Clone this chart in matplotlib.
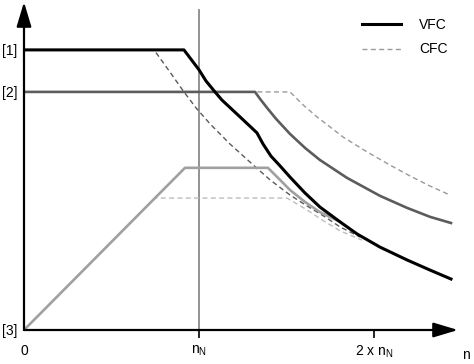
import numpy as np
import matplotlib
matplotlib.use('agg')
from matplotlib import pyplot as plt
from matplotlib.lines import Line2D

plt.rcParams['font.family'] = ['Liberation Sans', 'DejaVu Sans']
plt.rcParams['mathtext.default'] = 'regular'

# speed in units of n_N, torque as fraction of level [1]
vfc1_x = [0, 0.914, 1.0, 1.04, 1.086, 1.131, 1.234, 1.331, 1.366, 1.411, 1.463, 1.52, 1.606, 1.691, 1.806, 1.903, 2.034, 2.189, 2.32, 2.44]
vfc1_y = [1.0, 1.0, 0.929, 0.889, 0.854, 0.821, 0.761, 0.704, 0.664, 0.621, 0.586, 0.546, 0.489, 0.439, 0.386, 0.343, 0.296, 0.25, 0.214, 0.182]

vfc2_x = [0, 1.32, 1.349, 1.389, 1.44, 1.52, 1.606, 1.691, 1.846, 2.034, 2.189, 2.32, 2.44]
vfc2_y = [0.85, 0.85, 0.825, 0.793, 0.754, 0.7, 0.65, 0.607, 0.543, 0.479, 0.436, 0.404, 0.382]

vfc3_x = [0, 0.92, 1.394, 1.463, 1.52, 1.606, 1.691, 1.806]
vfc3_y = [0, 0.579, 0.579, 0.536, 0.5, 0.457, 0.421, 0.386]

cfc1_x = [0, 0.743, 0.834, 0.914, 0.983, 1.063, 1.177, 1.303, 1.406, 1.52, 1.617, 1.72, 1.806, 1.92]
cfc1_y = [1.0, 1.0, 0.921, 0.85, 0.793, 0.736, 0.664, 0.593, 0.536, 0.482, 0.443, 0.404, 0.368, 0.332]

cfc2_x = [0, 1.52, 1.594, 1.674, 1.749, 1.823, 1.96, 2.091, 2.206, 2.32, 2.434]
cfc2_y = [0.85, 0.85, 0.804, 0.761, 0.725, 0.689, 0.636, 0.589, 0.55, 0.514, 0.482]

cfc3_x = [0, 0.749, 1.503, 1.56, 1.617, 1.703, 1.806, 1.931]
cfc3_y = [0, 0.471, 0.471, 0.45, 0.429, 0.393, 0.354, 0.321]

ytick_pos = [1.0, 0.85, 0]
ytick_lab = ['[1]', '[2]', '[3]']
xtick_pos = [0, 1, 2]
xtick_lab = ['0', 'n$_N$', '2 x n$_N$']

fig = plt.figure(figsize=(4.74, 3.64), dpi=100)
ax = fig.add_axes([24/474, 34/364, 434/474, 328/364])
ax.set_xlim(0, 2.48)
ax.set_ylim(0, 1.171)
for s in ax.spines.values():
    s.set_visible(False)

dash = (3.6, 2.4)
ax.axvline(1, 0, 1.143/1.171, color='#8a8a8a', lw=1.3, zorder=1)

ax.plot(cfc3_x, cfc3_y, color='#bdbdbd', lw=1.0, dashes=dash, zorder=2)
ax.plot(cfc2_x, cfc2_y, color='#9a9a9a', lw=1.0, dashes=dash, zorder=2)
ax.plot(cfc1_x, cfc1_y, color='#5a5a5a', lw=1.0, dashes=dash, zorder=2)
ax.plot(vfc3_x, vfc3_y, color='#a0a0a0', lw=1.9, zorder=3)
ax.plot(vfc2_x, vfc2_y, color='#5c5c5c', lw=1.9, zorder=3)
ax.plot(vfc1_x, vfc1_y, color='black', lw=2.2, zorder=4)

# axes with arrows
ax.annotate('', xy=(1, 0), xytext=(0, 0), xycoords='axes fraction',
            arrowprops=dict(arrowstyle='-|>,head_length=1.5,head_width=0.45', color='black', lw=1.6, shrinkA=0, shrinkB=0))
ax.annotate('', xy=(0, 1), xytext=(0, 0), xycoords='axes fraction',
            arrowprops=dict(arrowstyle='-|>,head_length=1.5,head_width=0.45', color='black', lw=1.6, shrinkA=0, shrinkB=0))

ax.set_xticks(xtick_pos, xtick_lab, fontsize=10)
ax.tick_params(axis='x', length=6, width=1.2, pad=4, direction='out')
ax.xaxis.get_major_ticks()[0].tick1line.set_visible(False)
ax.set_yticks(ytick_pos, ytick_lab, fontsize=10)
ax.tick_params(axis='y', length=0, pad=5)
ax.text(1.01, -0.055, 'n', transform=ax.transAxes, fontsize=10, ha='left', va='top')

handles = [Line2D([], [], color='black', lw=2.2),
           Line2D([], [], color='#9a9a9a', lw=1.0, dashes=dash)]
fig.legend(handles, ['VFC', 'CFC'], loc='upper left', bbox_to_anchor=(362/474, 1 - 18/364),
           frameon=False, fontsize=10, handlelength=2.8, handletextpad=1.3,
           labelspacing=0.75, borderpad=0, borderaxespad=0)

fig.savefig('out.png', dpi=100)
